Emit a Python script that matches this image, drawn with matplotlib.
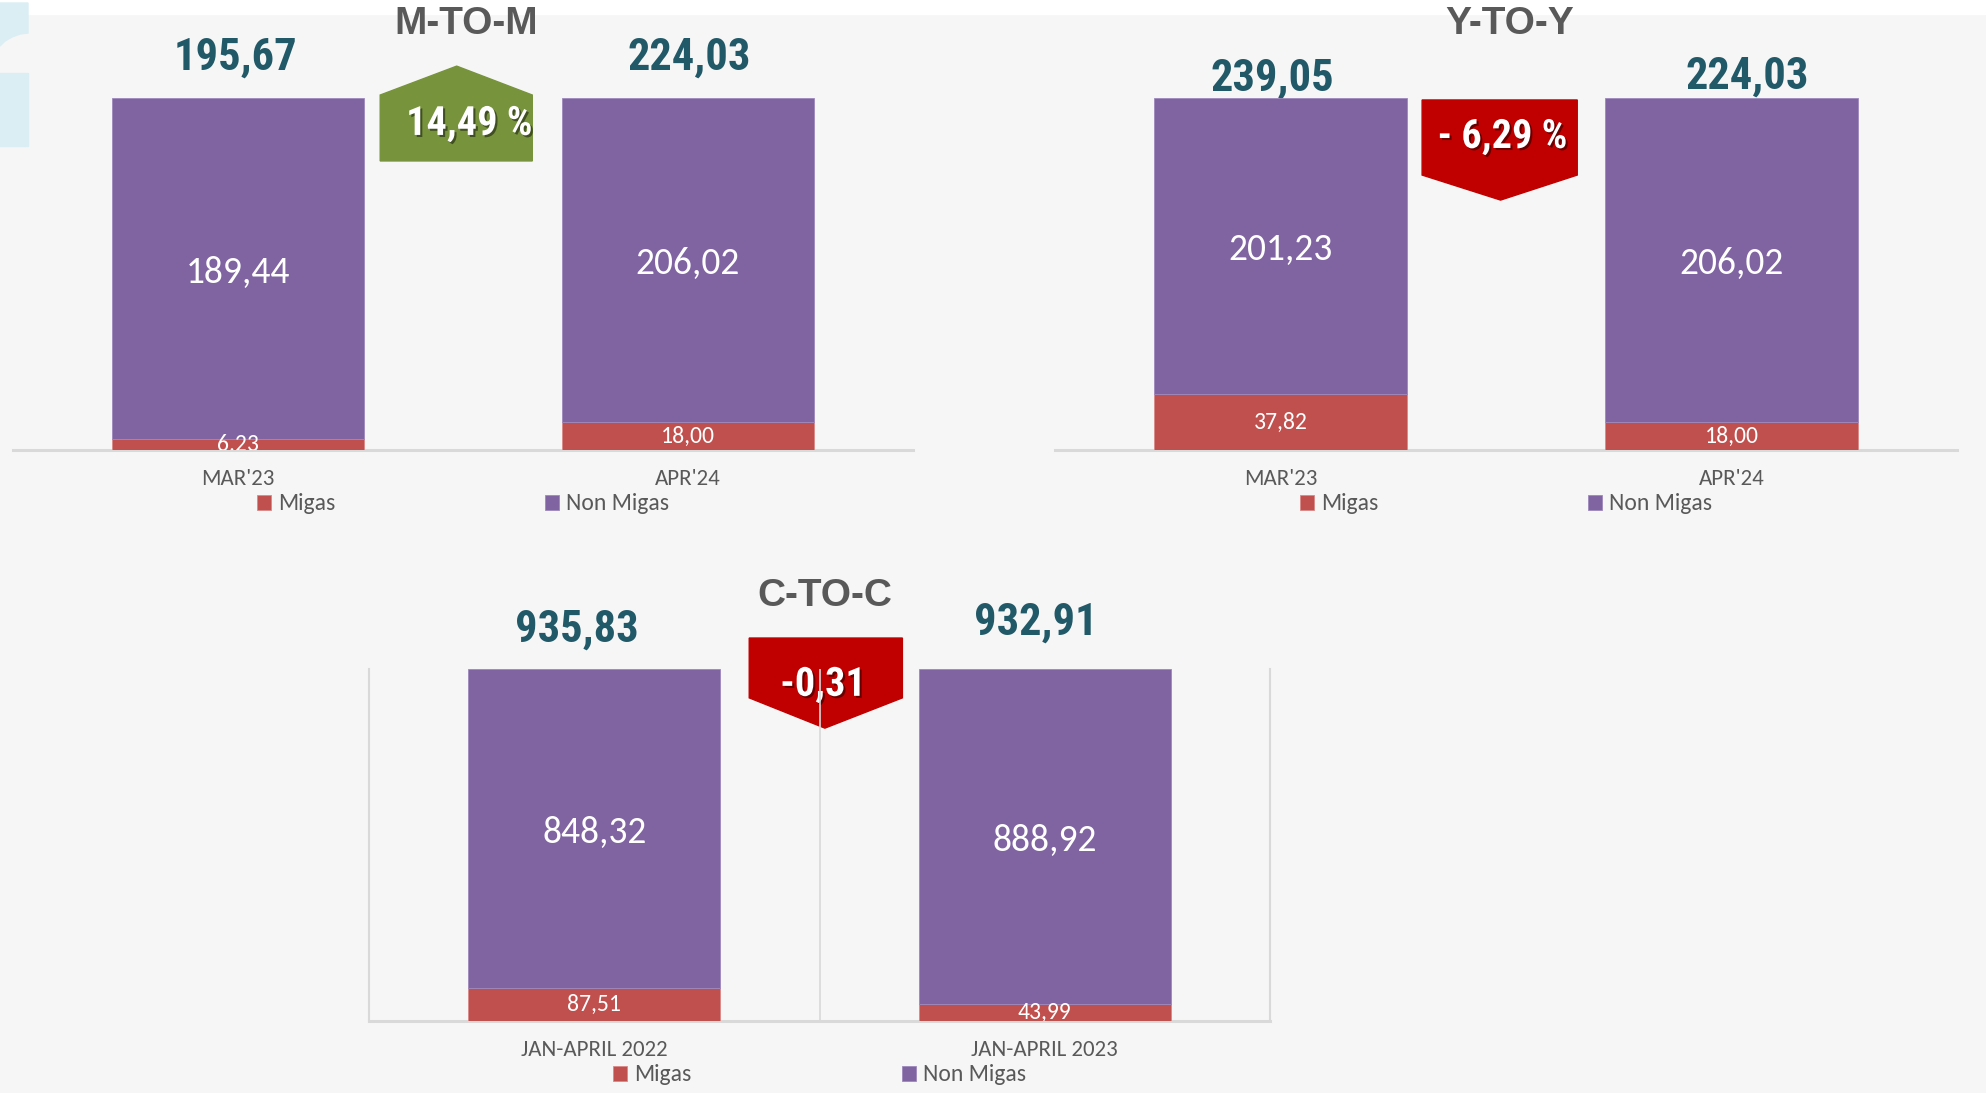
import matplotlib
matplotlib.use("Agg")
import matplotlib.pyplot as plt
import matplotlib.patheffects as pe
from matplotlib.patches import Polygon, Rectangle
import logging

logging.getLogger("matplotlib.font_manager").setLevel(logging.ERROR)

# ── Data ────────────────────────────────────────────────────────────────────
mtm_cats = ["MAR'23", "APR'24"]
mtm_migas = [6.23, 18.00]
mtm_non = [189.44, 206.02]
mtm_total = [195.67, 224.03]

yty_cats = ["MAR'23", "APR'24"]
yty_migas = [37.82, 18.00]
yty_non = [201.23, 206.02]
yty_total = [239.05, 224.03]

ctc_cats = ["JAN-APRIL 2022", "JAN-APRIL 2023"]
ctc_migas = [87.51, 43.99]
ctc_non = [848.32, 888.92]
ctc_total = [935.83, 932.91]

titles = ["M-TO-M", "Y-TO-Y", "C-TO-C"]
change_labels = ["14,49 %", "- 6,29 %", "-0,31"]

# ── Palette / fonts ─────────────────────────────────────────────────────────
BG = "#F6F6F6"
PURPLE = "#8064A2"
RED = "#C0504D"
TEAL = "#215968"
GREY = "#595959"
LINE = "#D9D9D9"
GREEN = "#77933C"
DARKRED = "#C00000"
ICE = "#DAEEF3"

BODY = ["Carlito", "Calibri", "Lato", "DejaVu Sans"]
NARROW = ["Liberation Sans Narrow", "Roboto Condensed", "Liberation Sans", "DejaVu Sans"]
HEAD = ["Liberation Sans", "DejaVu Sans"]

W, H = 1986, 1093
fig = plt.figure(figsize=(W / 100, H / 100), dpi=100, facecolor=BG)


def fx(px):
    return px / W


def fy(py):
    return 1 - py / H


def fmt(v):
    return f"{v:.2f}".replace(".", ",")


# background pieces
fig.patches.append(Rectangle((0, fy(14)), 1, 14 / H, transform=fig.transFigure,
                             color="white", zorder=0))
fig.patches.append(Rectangle((0, fy(146)), fx(28), 73 / H, transform=fig.transFigure,
                             color=ICE, zorder=0.5))
cap = [(0, 3), (28, 3), (28, 33), (20, 34), (12, 37), (5, 41), (0, 46)]
fig.patches.append(Polygon([(fx(a), fy(b)) for a, b in cap], closed=True,
                           transform=fig.transFigure, color=ICE, zorder=0.5))


def panel(rect, cats, migas, non, total, total_offs, frame=False):
    ax = fig.add_axes(rect)
    ax.set_facecolor("none")
    x = list(range(len(cats)))
    pm = [m / t * 100 for m, t in zip(migas, total)]
    pn = [n / t * 100 for n, t in zip(non, total)]
    b1 = ax.bar(x, pm, 0.56, color=RED, label="Migas", zorder=3,
                edgecolor="#D88A88", linewidth=0.6)
    b2 = ax.bar(x, pn, 0.56, bottom=pm, color=PURPLE, label="Non Migas", zorder=3,
                edgecolor="#9D88BC", linewidth=0.6)
    ax.set_xlim(-0.5, len(cats) - 0.5)
    ax.set_ylim(0, 100)

    for r, v in zip(b1, migas):
        ax.text(r.get_x() + r.get_width() / 2, r.get_y() + r.get_height() / 2, fmt(v),
                ha="center", va="center", color="white", fontsize=17,
                family=BODY, zorder=4, clip_on=True)
    for r, v in zip(b2, non):
        ax.annotate(fmt(v), (r.get_x() + r.get_width() / 2, r.get_y() + r.get_height() / 2),
                    xytext=(0, -4), textcoords="offset pixels",
                    ha="center", va="center", color="white", fontsize=27,
                    family=BODY, zorder=4)
    for xi, v, (dx, dy) in zip(x, total, total_offs):
        ax.annotate(fmt(v), (xi, 100), xytext=(dx, dy), textcoords="offset pixels",
                    ha="center", va="center", fontsize=32, fontweight="bold",
                    color=TEAL, family=NARROW, zorder=2, annotation_clip=False)

    for s in ["top", "right", "left"]:
        ax.spines[s].set_visible(frame)
        ax.spines[s].set_color(LINE)
        ax.spines[s].set_linewidth(1.5)
    ax.spines["bottom"].set_color(LINE)
    ax.spines["bottom"].set_linewidth(2.2)
    if frame:
        ax.spines["top"].set_visible(False)
        ax.axvline(0.5, color=LINE, lw=1.2, zorder=6)
    ax.set_yticks([])
    ax.set_xticks(x)
    ax.set_xticklabels(cats, family=BODY, fontsize=16.5, color=GREY)
    ax.tick_params(axis="x", length=0, pad=14)
    ax.legend(loc="center", bbox_to_anchor=(0.5, -0.153), ncol=2, frameon=False,
              handlelength=0.6, handleheight=0.6, handletextpad=0.3,
              columnspacing=8.9, prop={"family": BODY, "size": 17},
              labelcolor=GREY)
    return ax


ax1 = panel([fx(13), fy(450), fx(900), 352.5 / H], mtm_cats, mtm_migas, mtm_non,
            mtm_total, [(-3, 40), (1, 40)])
ax2 = panel([fx(1055), fy(450), fx(902), 352.5 / H], yty_cats, yty_migas, yty_non,
            yty_total, [(-8, 19), (16, 21)])
ax3 = panel([fx(369), fy(1021), fx(901), 352 / H], ctc_cats, ctc_migas, ctc_non,
            ctc_total, [(-17, 39), (-9, 46)], frame=True)

# ── Titles ──────────────────────────────────────────────────────────────────
for (px, py), t in zip([(466, 24), (1510, 24), (825, 596)], titles):
    fig.text(fx(px), fy(py), t, ha="center", va="center", fontsize=28,
             fontweight="bold", color=GREY, family=HEAD)

# ── Change badges ───────────────────────────────────────────────────────────
shadow = [pe.withSimplePatchShadow(offset=(1.5, -1.5), shadow_rgbFace="black", alpha=0.45)]

up = Polygon([(0.408, 0.820), (0.408, 1.007), (0.493, 1.089), (0.577, 1.007),
              (0.577, 0.820)], closed=True, transform=ax1.transAxes,
             color=GREEN, clip_on=False, zorder=1)
ax1.add_patch(up)
ax1.text(0.507, 0.925, change_labels[0], transform=ax1.transAxes, ha="center",
         va="center", fontsize=29, fontweight="bold", color="white", family=NARROW,
         path_effects=shadow, zorder=5)

down = Polygon([(0.407, 0.993), (0.579, 0.993), (0.579, 0.780), (0.494, 0.709),
                (0.407, 0.780)], closed=True, transform=ax2.transAxes,
               color=DARKRED, clip_on=False, zorder=1)
ax2.add_patch(down)
ax2.text(0.496, 0.888, change_labels[1], transform=ax2.transAxes, ha="center",
         va="center", fontsize=29, fontweight="bold", color="white", family=NARROW,
         path_effects=shadow, zorder=5)

down2 = Polygon([(0.422, 1.088), (0.592, 1.088), (0.592, 0.918), (0.506, 0.832),
                 (0.422, 0.918)], closed=True, transform=ax3.transAxes,
                color=DARKRED, clip_on=False, zorder=1)
ax3.add_patch(down2)
ax3.text(0.504, 0.955, change_labels[2], transform=ax3.transAxes, ha="center",
         va="center", fontsize=29, fontweight="bold", color="white", family=NARROW,
         path_effects=shadow, zorder=5)

fig.savefig("out.png", dpi=100, facecolor=BG)
